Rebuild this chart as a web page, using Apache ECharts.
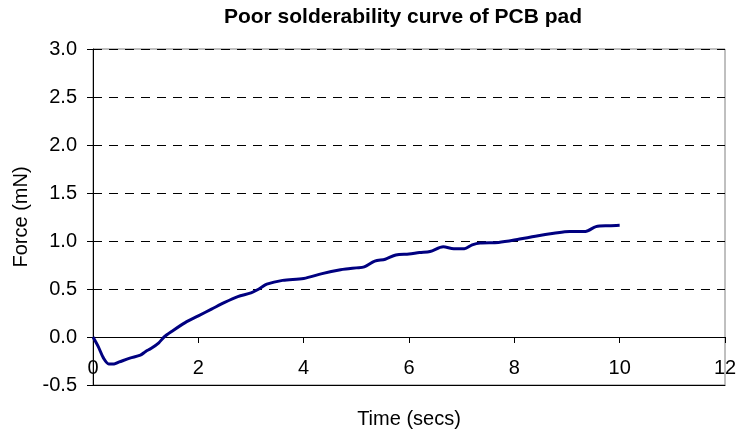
<!DOCTYPE html>
<html>
<head>
<meta charset="utf-8">
<title>Poor solderability curve of PCB pad</title>
<script src="https://cdn.jsdelivr.net/npm/echarts@6/dist/echarts.min.js"></script>
<style>
  html, body { margin: 0; padding: 0; background: #fff; }
  #chart { width: 738px; height: 436px; }
</style>
</head>
<body>
<div id="chart"></div>
<script>
// time (secs) and force (mN)
var timeSecs = [0, 0.1, 0.2, 0.3, 0.4, 0.5, 0.7, 0.9, 1.0, 1.1, 1.25, 1.35, 1.5, 1.75, 2.0,
  2.25, 2.5, 2.75, 3.0, 3.15, 3.3, 3.6, 4.0, 4.35, 4.7, 4.85, 5.0, 5.15, 5.35, 5.55,
  5.75, 6.0, 6.2, 6.4, 6.65, 6.85, 7.05, 7.2, 7.35, 7.7, 8.1, 8.4, 8.75, 9.05, 9.35,
  9.55, 9.8, 10.0];
var forceMN = [0, -0.1, -0.22, -0.28, -0.28, -0.26, -0.22, -0.19, -0.15, -0.12, -0.06, 0.0, 0.06, 0.15, 0.22,
  0.29, 0.36, 0.42, 0.46, 0.5, 0.55, 0.59, 0.61, 0.66, 0.7, 0.71, 0.72, 0.73, 0.79, 0.81,
  0.855, 0.865, 0.88, 0.89, 0.94, 0.92, 0.92, 0.96, 0.98, 0.985, 1.02, 1.05, 1.08, 1.1, 1.1,
  1.15, 1.16, 1.165];

var points = timeSecs.map(function (t, i) { return [t, forceMN[i]]; });

var chart = echarts.init(document.getElementById("chart"));
var font = "Liberation Sans, Arial, sans-serif";

chart.setOption({
  animation: false,
  title: {
    text: "Poor solderability curve of PCB pad",
    left: 398,
    textAlign: "center",
    top: 2,
    textStyle: { fontFamily: font, fontSize: 21, fontWeight: "bold", color: "#000" }
  },
  grid: {
    left: 93,
    right: 13,
    top: 49,
    bottom: 51,
    outerBoundsMode: "none",
    containLabel: false,
    show: true,
    borderColor: "#808080",
    borderWidth: 1
  },
  xAxis: [
    {
      // bottom frame line, carries tick labels and axis name
      type: "value",
      min: 0,
      max: 12,
      interval: 2,
      position: "bottom",
      name: "Time (secs)",
      nameLocation: "middle",
      nameGap: 24,
      nameTextStyle: { fontFamily: font, fontSize: 20, color: "#000" },
      axisLine: { show: true, onZero: false, lineStyle: { color: "#000", width: 1 } },
      axisTick: { show: false },
      axisLabel: { fontFamily: font, fontSize: 20, color: "#000", margin: -27 },
      splitLine: { show: false }
    },
    {
      // axis line through zero with downward ticks
      type: "value",
      min: 0,
      max: 12,
      interval: 2,
      position: "bottom",
      axisLine: { show: true, onZero: true, lineStyle: { color: "#000", width: 1 } },
      axisTick: { show: true, length: 6, lineStyle: { color: "#000" } },
      axisLabel: { show: false },
      splitLine: { show: false }
    }
  ],
  yAxis: {
    type: "value",
    min: -0.5,
    max: 3.0,
    interval: 0.5,
    name: "Force (mN)",
    nameLocation: "middle",
    nameGap: 61,
    nameTextStyle: { fontFamily: font, fontSize: 20, color: "#000" },
    axisLine: { show: true, onZero: false, lineStyle: { color: "#000", width: 1 } },
    axisTick: { show: true, length: 6, lineStyle: { color: "#000" } },
    axisLabel: {
      fontFamily: font,
      fontSize: 20,
      color: "#000",
      margin: 16,
      formatter: function (v) { return v.toFixed(1); }
    },
    splitLine: { show: true, lineStyle: { color: "#000", type: [9, 7], width: 1 } }
  },
  series: [
    {
      type: "line",
      data: points,
      smooth: 0.3,
      symbol: "none",
      lineStyle: { color: "#000080", width: 3 }
    }
  ]
});
</script>
</body>
</html>
